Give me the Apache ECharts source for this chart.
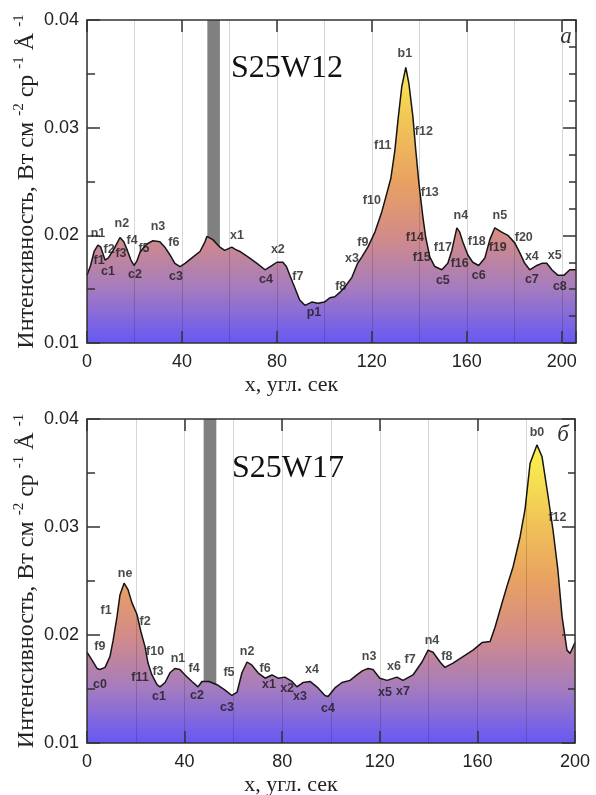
<!DOCTYPE html>
<html><head><meta charset="utf-8">
<script src="https://cdn.jsdelivr.net/npm/echarts@6/dist/echarts.min.js"></script>
<style>html,body{margin:0;padding:0;background:#fff}#c{width:596px;height:795px}</style>
</head><body><div id="c"></div>
<script>
// ---------- Panel a: S25W12 ----------
const panelAX = [0,1.5,3,4.6,5.8,7.6,9,11,12.5,13.9,15.5,17,18.5,19.8,21,22.3,24,25.3,27.8,30.7,32.8,34.9,37,39.2,41.3,44.2,47.6,49.7,50.5,53,56,58,61,62.5,64.4,67.8,71.6,75,78,80,82.5,84,86.7,89.6,91.8,94.7,97.3,100,102.3,104.4,106.5,108.6,111.6,114,115.8,118.3,121.3,124.2,126.3,128,129.7,131,132.6,134.3,135.6,137.3,138.5,139.8,141.5,142.7,144.4,146.5,149.5,152,153.7,155.8,157,158.3,160.4,162.5,165,167.6,169.7,171.8,174.7,177.3,180.2,182.3,184.4,186.5,189.5,191.6,193.7,195.8,198.3,201,203.4,206];
const panelAY = [0.0163,0.0172,0.0185,0.0191,0.0189,0.0177,0.0179,0.0186,0.0192,0.0198,0.0194,0.0186,0.0177,0.0172,0.0176,0.0184,0.0189,0.0192,0.0195,0.0194,0.0189,0.0182,0.0174,0.0171,0.0174,0.0179,0.0185,0.0194,0.0199,0.0196,0.0189,0.0186,0.0189,0.0187,0.0185,0.0180,0.0174,0.0168,0.0172,0.0175,0.0175,0.0171,0.0156,0.0140,0.0135,0.0138,0.0137,0.0138,0.0142,0.0143,0.0147,0.0152,0.0161,0.0174,0.0180,0.0189,0.0203,0.0222,0.0239,0.0253,0.0279,0.0307,0.0338,0.0356,0.0341,0.0310,0.0279,0.0249,0.0217,0.0198,0.0180,0.0171,0.0168,0.0174,0.0186,0.0207,0.0203,0.0194,0.0182,0.0175,0.0172,0.0179,0.0196,0.0207,0.0203,0.0200,0.0193,0.0184,0.0174,0.0168,0.0172,0.0174,0.0174,0.0168,0.0163,0.0163,0.0168,0.0168];
const labelsA = [['n1',4.6,0.0202],['f1',5.1,0.0177],['f2',9.3,0.0187],['f3',14.3,0.0183],['c1',8.8,0.0166],['n2',14.7,0.0211],['f4',19,0.0195],['f5',24,0.0188],['c2',20.2,0.0164],['n3',29.9,0.0208],['f6',36.6,0.0193],['c3',37.5,0.0162],['x1',63.2,0.0200],['x2',80.4,0.0187],['c4',75.4,0.0159],['f7',88.8,0.0162],['p1',95.6,0.0128],['b1',133.9,0.0369],['f11',124.6,0.0283],['f12',141.9,0.0296],['f10',120,0.0232],['f13',144.4,0.0240],['f9',116.2,0.0193],['x3',111.6,0.0178],['f8',106.9,0.0152],['f14',138.1,0.0198],['f15',141,0.0179],['c5',149.9,0.0158],['f17',149.9,0.0189],['f16',157,0.0174],['n4',157.5,0.0218],['f18',164.2,0.0194],['c6',165,0.0163],['n5',173.9,0.0218],['f19',173,0.0189],['f20',184,0.0198],['x4',187.4,0.0180],['c7',187.4,0.0159],['x5',197,0.0181],['c8',199.2,0.0152]];
const barA = [50.7, 56.0];
const xMaxA = 206;

// ---------- Panel б: S25W17 ----------
const panelBX = [0,2,4.1,5.3,7.4,9.4,10.7,12.3,13.5,15.2,16.8,18.4,20.5,22.1,23.8,25,26.6,28.7,29.9,32,34,36,38.1,40.2,43,45.5,47.1,50,53.3,56.6,59.4,61.5,63.5,65.6,67.6,70.1,73,75.8,78.3,81.1,84,86,88.5,91.4,94.7,97.5,98.8,101.6,104.5,107.8,110.6,113,115.2,117.2,120,123,127,129.5,133.6,137.3,139.8,141.8,144.7,146.7,150,154.1,158.2,161.9,165.2,167.2,170,172.5,174.6,177.5,179.5,181.6,184.4,186.5,189,191,193,194.7,196.7,198,200];
const panelBY = [0.0184,0.0177,0.0169,0.0168,0.0170,0.0180,0.0195,0.0217,0.0237,0.0248,0.0242,0.0230,0.0219,0.0203,0.0189,0.0174,0.0163,0.0154,0.0152,0.0156,0.0165,0.0169,0.0168,0.0163,0.0157,0.0152,0.0157,0.0157,0.0154,0.0149,0.0144,0.0147,0.0165,0.0175,0.0172,0.0165,0.0160,0.0163,0.0160,0.0161,0.0157,0.0152,0.0156,0.0157,0.0151,0.0144,0.0143,0.0151,0.0156,0.0158,0.0163,0.0167,0.0169,0.0168,0.0160,0.0158,0.0161,0.0158,0.0163,0.0175,0.0186,0.0184,0.0175,0.0170,0.0174,0.0180,0.0186,0.0193,0.0194,0.0207,0.0229,0.0248,0.0263,0.0291,0.0316,0.0359,0.0376,0.0365,0.0328,0.0297,0.0260,0.0217,0.0186,0.0183,0.0193];
const labelsB = [['ne',15.6,0.0257],['f1',7.8,0.0223],['f2',23.8,0.0212],['f9',5.3,0.0189],['c0',5.3,0.0154],['f10',27.9,0.0185],['f11',21.7,0.0161],['f3',29.1,0.0166],['n1',37.3,0.0178],['f4',43.9,0.0169],['c1',29.5,0.0143],['c2',45.1,0.0144],['c3',57.4,0.0133],['f5',58.2,0.0165],['n2',65.6,0.0185],['f6',73,0.0169],['x1',74.6,0.0154],['x2',82,0.0150],['x3',87.3,0.0143],['x4',92.2,0.0168],['c4',98.8,0.0132],['n3',115.6,0.0180],['x5',122.1,0.0147],['x6',125.8,0.0171],['x7',129.5,0.0148],['f7',132.4,0.0177],['n4',141.4,0.0195],['f8',147.5,0.0180],['b0',184.4,0.0387],['f12',192.8,0.0309]];
const barB = [47.8, 53.0];
const xMaxB = 200;

const yMin = 0.01, yMax = 0.04, yStep = 0.01;
const xLabelStep = 40, xGridStep = 20;
const xTitle = 'x, угл. сек';
const yTitle = 'Интенсивность, Вт см {s|-2} ср {s|-1} Å {s|-1}';

const chart = echarts.init(document.getElementById('c'), null, {renderer: 'canvas'});

const grids = [
  {left: 87, top: 20, width: 489, height: 323, containLabel: false, outerBoundsMode: 'none'},
  {left: 87, top: 419, width: 488, height: 324, containLabel: false, outerBoundsMode: 'none'}
];
const frameColor = '#333';
const serif = "'Liberation Serif', 'DejaVu Serif', serif";
const sans = "'Liberation Sans', Arial, sans-serif";

function grad(top, bottom) {
  return {type: 'linear', x: 0, y: top, x2: 0, y2: bottom, global: true,
    colorStops: [
      {offset: 0, color: '#fbf84e'},
      {offset: 0.15, color: '#f8e84f'},
      {offset: 0.33, color: '#f0c158'},
      {offset: 0.5, color: '#e9a162'},
      {offset: 0.67, color: '#d28b88'},
      {offset: 0.83, color: '#a57cbe'},
      {offset: 1, color: '#6658f5'}
    ]};
}

const xAxes = [], yAxes = [], series = [];
[[panelAX, panelAY, labelsA, barA, xMaxA, 4], [panelBX, panelBY, labelsB, barB, xMaxB, 2]].forEach((p, i) => {
  const [xs, ys, labs, bar, xmax, rightSplit] = p;
  const g = grids[i];
  xAxes.push({gridIndex: i, type: 'value', position: 'bottom', min: 0, max: xmax, interval: xGridStep, z: 3,
    axisLine: {show: true, onZero: false, lineStyle: {color: frameColor, width: 1.5}},
    axisTick: {show: false},
    splitLine: {show: true, lineStyle: {color: 'rgba(0,0,0,0.16)', width: 1}},
    axisLabel: {fontSize: 18, color: '#222', fontFamily: sans, margin: 10,
      formatter: v => (Math.abs(v % xLabelStep) < 1e-9 && v <= 200) ? String(v) : ''},
    name: xTitle, nameLocation: 'middle', nameGap: 31, nameMoveOverlap: false,
    nameTextStyle: {fontFamily: serif, fontSize: 22, color: '#222', padding: [0, 80, 0, 0]}
  });
  xAxes.push({gridIndex: i, type: 'value', position: 'top', min: 0, max: xmax, interval: xLabelStep, z: 3,
    axisLine: {show: true, onZero: false, lineStyle: {color: frameColor, width: 1.5}},
    axisTick: {show: true, inside: true, length: 12, lineStyle: {color: frameColor, width: 1.5}},
    axisLabel: {show: false}, splitLine: {show: false}});
  xAxes.push({gridIndex: i, type: 'value', position: 'bottom', min: 0, max: xmax, interval: xLabelStep, z: 3,
    axisLine: {show: false},
    axisTick: {show: true, inside: true, length: 12, lineStyle: {color: frameColor, width: 1.5}},
    axisLabel: {show: false}, splitLine: {show: false}});
  yAxes.push({gridIndex: i, type: 'value', position: 'left', min: yMin, max: yMax, interval: yStep, z: 3,
    axisLine: {show: true, onZero: false, lineStyle: {color: frameColor, width: 1.5}},
    axisTick: {show: true, inside: true, length: 13, lineStyle: {color: frameColor, width: 1.5}},
    minorTick: {show: true, splitNumber: 2, length: 8, lineStyle: {color: frameColor, width: 1.5}},
    splitLine: {show: false},
    axisLabel: {fontSize: 18, color: '#222', fontFamily: sans, margin: 8, formatter: v => v.toFixed(2)},
    name: yTitle, nameLocation: 'middle', nameRotate: 90, nameGap: 45, nameMoveOverlap: false,
    nameTextStyle: {fontFamily: serif, fontSize: 24, color: '#222', lineHeight: 30,
      rich: {s: {fontFamily: serif, fontSize: 15, color: '#222', lineHeight: 14, verticalAlign: 'top'}}}
  });
  yAxes.push({gridIndex: i, type: 'value', position: 'right', min: yMin, max: yMax, interval: yStep, z: 3,
    axisLine: {show: true, onZero: false, lineStyle: {color: frameColor, width: 1.5}},
    axisTick: {show: true, inside: true, length: 13, lineStyle: {color: frameColor, width: 1.5}},
    minorTick: {show: true, splitNumber: rightSplit, length: 7, lineStyle: {color: frameColor, width: 1.5}},
    splitLine: {show: false}, axisLabel: {show: false}});

  series.push({type: 'line', xAxisIndex: 3 * i, yAxisIndex: 2 * i, z: 2,
    data: xs.map((x, k) => [x, ys[k]]), symbol: 'none', smooth: false,
    lineStyle: {color: '#151515', width: 1.5},
    areaStyle: {origin: 'start', opacity: 1, color: grad(g.top, g.top + g.height)}});
  series.push({type: 'line', xAxisIndex: 3 * i, yAxisIndex: 2 * i, z: 4, data: [], symbol: 'none',
    markArea: {silent: true, itemStyle: {color: '#808080', opacity: 1},
      data: [[{xAxis: bar[0]}, {xAxis: bar[1]}]]}});
  series.push({type: 'scatter', xAxisIndex: 3 * i, yAxisIndex: 2 * i, z: 6, symbolSize: 0, silent: true,
    data: labs.map(l => ({name: l[0], value: [l[1], l[2]]})),
    label: {show: true, position: 'inside', formatter: '{b}', fontFamily: sans, fontSize: 12.5,
      fontWeight: 'bold', color: '#1a1a1a'}});
});

chart.setOption({
  animation: false,
  backgroundColor: '#fff',
  grid: grids,
  xAxis: xAxes,
  yAxis: yAxes,
  series: series,
  graphic: [
    {type: 'text', z: 10, style: {text: 'S25W12', x: 287, y: 69, font: "32px 'Liberation Serif'", fill: '#111', textAlign: 'center', textVerticalAlign: 'middle'}},
    {type: 'text', z: 10, style: {text: 'a', x: 566, y: 37, font: "italic 23px 'Liberation Serif'", fill: '#333', textAlign: 'center', textVerticalAlign: 'middle'}},
    {type: 'text', z: 10, style: {text: 'S25W17', x: 288, y: 469, font: "32px 'Liberation Serif'", fill: '#111', textAlign: 'center', textVerticalAlign: 'middle'}},
    {type: 'text', z: 10, style: {text: 'б', x: 563, y: 435, font: "italic 23px 'Liberation Serif'", fill: '#333', textAlign: 'center', textVerticalAlign: 'middle'}}
  ]
});
</script>
</body></html>
